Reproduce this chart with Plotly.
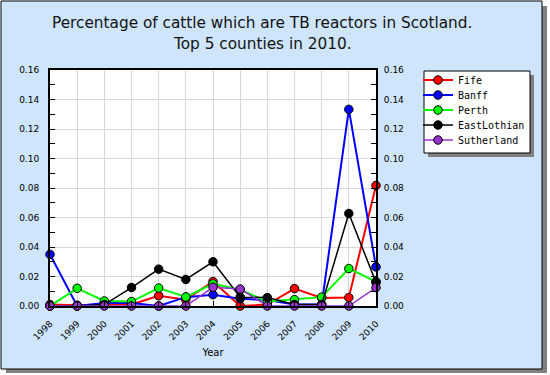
import plotly.graph_objects as go

years = list(range(1998, 2011))
fife = [0.001, 0.0005, 0.001, 0.001, 0.007, 0.0043, 0.0166, 0.0, 0.001, 0.0118, 0.0055, 0.0057, 0.0817]
banff = [0.035, 0.0, 0.002, 0.002, 0.0, 0.006, 0.0077, 0.005, 0.004, 0.001, 0.001, 0.1333, 0.0265]
perth = [0.0, 0.012, 0.0034, 0.003, 0.0122, 0.0061, 0.015, 0.011, 0.003, 0.0043, 0.006, 0.0254, 0.0166]
eastlothian = [0.0, 0.0, 0.001, 0.0125, 0.025, 0.018, 0.030, 0.006, 0.0057, 0.001, 0.001, 0.0627, 0.016]
sutherland = [0.0, 0.0, 0.0, 0.0, 0.0, 0.0, 0.0127, 0.0115, 0.0, 0.0, 0.0, 0.0, 0.0125]
title_lines = ["Percentage of cattle which are TB reactors in Scotland.", "Top 5 counties in 2010."]

series = [
    ("Fife", fife, "#ff0000", 2),
    ("Banff", banff, "#0000ff", 2),
    ("Perth", perth, "#00ff00", 2),
    ("EastLothian", eastlothian, "#000000", 1.5),
    ("Sutherland", sutherland, "#9933cc", 1.5),
]

L, R, T, B = 50, 376, 70, 306
W, H = 550, 375

def px(x):
    return (x - L) / (R - L)

def py(y):
    return (B - y) / (B - T)

fig = go.Figure()
legend_layout = {}
for i, (name, vals, col, lw) in enumerate(series):
    key = "legend" if i == 0 else f"legend{i + 1}"
    fig.add_trace(go.Scatter(
        x=years, y=vals, name=name, mode="lines+markers",
        line=dict(color=col, width=lw),
        marker=dict(symbol="circle", size=8.5, color=col, line=dict(color="#000000", width=1)),
        cliponaxis=False, legend=key,
    ))
    legend_layout[key] = dict(
        x=px(418), y=py(80 + 15 * i), xanchor="left", yanchor="middle",
        bgcolor="rgba(0,0,0,0)", borderwidth=0,
        font=dict(family="DejaVu Sans Mono", size=10, color="#000000"),
        itemwidth=30,
    )
# invisible trace for right axis
fig.add_trace(go.Scatter(x=[years[0]], y=[0], yaxis="y2", showlegend=False,
                         mode="markers", marker=dict(opacity=0), hoverinfo="skip"))

shapes = [
    dict(type="rect", xref="paper", yref="paper", x0=px(6), x1=px(547), y0=py(373), y1=py(6),
         fillcolor="#808080", line=dict(width=0), layer="below"),
    dict(type="rect", xref="paper", yref="paper", x0=px(1), x1=px(542), y0=py(369), y1=py(1),
         fillcolor="#cfe5fb", line=dict(color="#000000", width=1), layer="below"),
    dict(type="rect", xref="paper", yref="paper", x0=0, x1=1, y0=0, y1=1,
         fillcolor="#ffffff", line=dict(width=0), layer="below"),
    dict(type="rect", xref="paper", yref="paper", x0=px(428), x1=px(534), y0=py(157), y1=py(75),
         fillcolor="#808080", line=dict(width=0), layer="below"),
    dict(type="rect", xref="paper", yref="paper", x0=px(424), x1=px(530), y0=py(153), y1=py(71),
         fillcolor="#ffffff", line=dict(color="#000000", width=1), layer="below"),
]

annotations = [
    dict(text=title_lines[0], xref="paper", yref="paper", x=px(262), y=py(23),
         xanchor="center", yanchor="middle", showarrow=False,
         font=dict(family="DejaVu Sans", size=15.3, color="#111111")),
    dict(text=title_lines[1], xref="paper", yref="paper", x=px(262), y=py(44.5),
         xanchor="center", yanchor="middle", showarrow=False,
         font=dict(family="DejaVu Sans", size=15.3, color="#111111")),
]

tickfont = dict(family="DejaVu Sans", size=9, color="#000000")

fig.update_layout(
    width=W, height=H,
    margin=dict(l=L, r=W - R, t=T, b=H - B, autoexpand=False),
    paper_bgcolor="#ffffff",
    plot_bgcolor="rgba(0,0,0,0)",
    shapes=shapes,
    annotations=annotations,
    showlegend=True,
    xaxis=dict(
        range=[1998, 2010], tickmode="array", tickvals=years, ticktext=[str(y) for y in years],
        tickangle=-45, tickfont=tickfont,
        ticks="inside", ticklen=5, tickcolor="#000000",
        showgrid=True, gridcolor="#d8d8d8", gridwidth=1,
        showline=True, linecolor="#000000", linewidth=2, mirror=True,
        zeroline=False, ticklabelstandoff=7,
        title=dict(text="Year", font=dict(family="DejaVu Sans", size=10, color="#000000"), standoff=8),
    ),
    yaxis=dict(
        range=[0, 0.16], dtick=0.02, tickformat=".2f", tickfont=tickfont,
        ticks="inside", ticklen=5, tickcolor="#000000",
        minor=dict(dtick=0.01, ticks="inside", ticklen=5, tickcolor="#000000", showgrid=False),
        showgrid=True, gridcolor="#d8d8d8", gridwidth=1,
        showline=True, linecolor="#000000", linewidth=2, mirror=True,
        zeroline=False, ticklabelstandoff=7,
    ),
    yaxis2=dict(
        range=[0, 0.16], dtick=0.02, tickformat=".2f", tickfont=tickfont,
        overlaying="y", side="right",
        ticks="inside", ticklen=5, tickcolor="#000000",
        minor=dict(dtick=0.01, ticks="inside", ticklen=5, tickcolor="#000000", showgrid=False),
        showgrid=False, showline=True, linecolor="#000000", linewidth=2,
        zeroline=False, ticklabelstandoff=4,
    ),
    **legend_layout,
)

fig.write_html("out.html", config={"displayModeBar": False})
with open("out.html", encoding="utf-8") as f:
    html = f.read()
html = html.replace("<head>", "<head><style>html,body{margin:0;padding:0;overflow:hidden;}</style>", 1)
with open("out.html", "w", encoding="utf-8") as f:
    f.write(html)
